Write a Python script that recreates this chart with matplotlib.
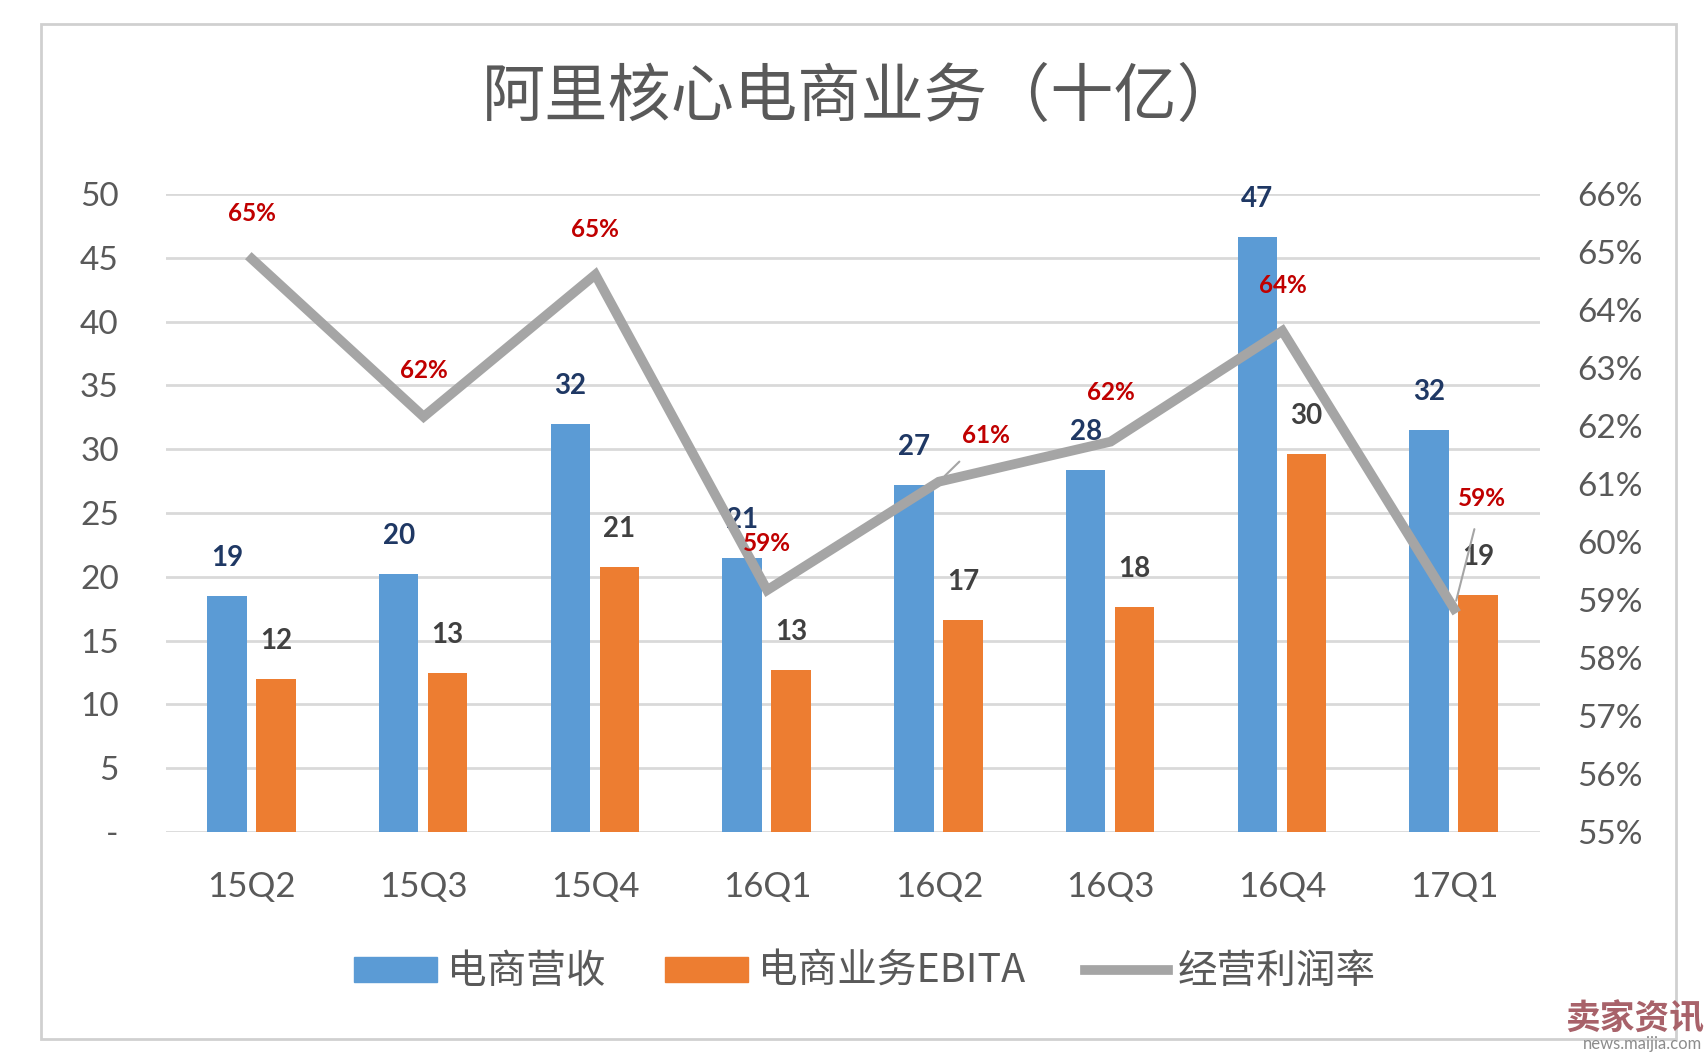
import matplotlib
matplotlib.use("Agg")
import matplotlib.pyplot as plt
import numpy as np
from matplotlib.patches import Rectangle
from matplotlib.lines import Line2D

# chart data
quarters = ["15Q2", "15Q3", "15Q4", "16Q1", "16Q2", "16Q3", "16Q4", "17Q1"]
revenue = [18.5, 20.2, 32.0, 21.5, 27.2, 28.4, 46.6, 31.5]
revenue_labels = ["19", "20", "32", "21", "27", "28", "47", "32"]
ebita = [12.0, 12.5, 20.8, 12.7, 16.6, 17.6, 29.6, 18.6]
ebita_labels = ["12", "13", "21", "13", "17", "18", "30", "19"]
margin = [64.88, 62.16, 64.61, 59.17, 61.04, 61.73, 63.64, 58.85]
margin_labels = ["65%", "62%", "65%", "59%", "61%", "62%", "64%", "59%"]
left_ticks = [0, 5, 10, 15, 20, 25, 30, 35, 40, 45, 50]
left_tick_labels = ["-", "5", "10", "15", "20", "25", "30", "35", "40", "45", "50"]
right_ticks = [55, 56, 57, 58, 59, 60, 61, 62, 63, 64, 65, 66]

BLUE = "#5B9BD5"
ORANGE = "#ED7D31"
GREY = "#A5A5A5"
TXT = "#595959"
LAT = ["Lato", "Noto Sans CJK SC", "DejaVu Sans"]
CJK = ["Noto Sans CJK SC", "DejaVu Sans"]

fig = plt.figure(figsize=(17.06, 10.52), dpi=100)
ax = fig.add_axes([0.0973, 0.2091, 0.8054, 0.6065])

# outer frame
fig.patches.append(Rectangle((41 / 1706, 1 - 1039 / 1052), 1635 / 1706, 1015 / 1052,
                             transform=fig.transFigure, fill=False,
                             edgecolor="#D0D0D0", linewidth=2))

x = np.arange(len(quarters))
w = 0.23
ax.bar(x - 0.145, revenue, w, color=BLUE, zorder=2)
ax.bar(x + 0.14, ebita, w, color=ORANGE, zorder=2)

ax.set_xlim(-0.5, len(quarters) - 0.5)
ax.set_ylim(0, 50)
ax.set_yticks(left_ticks)
ax.set_yticklabels(left_tick_labels)
ax.set_xticks(x)
ax.set_xticklabels(quarters)
ax.grid(axis="y", color="#D9D9D9", linewidth=2, zorder=0)
ax.set_axisbelow(True)
for s in ax.spines.values():
    s.set_visible(False)
ax.tick_params(axis="y", length=0, pad=34, labelsize=24, labelcolor=TXT)
ax.tick_params(axis="x", length=0, pad=28, labelsize=25, labelcolor=TXT)
for t in ax.get_xticklabels() + ax.get_yticklabels():
    t.set_family(LAT)

for i in range(len(quarters)):
    ax.annotate(revenue_labels[i], (x[i] - 0.145, revenue[i]), xytext=(0, 38),
                textcoords="offset pixels", ha="center", va="center",
                fontsize=20, fontweight="bold", color="#1F3864", family=LAT, zorder=5)
    ax.annotate(ebita_labels[i], (x[i] + 0.14, ebita[i]), xytext=(0, 38),
                textcoords="offset pixels", ha="center", va="center",
                fontsize=20, fontweight="bold", color="#404040", family=LAT, zorder=5)

ax2 = ax.twinx()
ax2.set_ylim(55, 66)
ax2.set_yticks(right_ticks)
ax2.set_yticklabels([f"{t}%" for t in right_ticks])
for s in ax2.spines.values():
    s.set_visible(False)
ax2.tick_params(axis="y", length=0, pad=27, labelsize=24, labelcolor=TXT)
for t in ax2.get_yticklabels():
    t.set_family(LAT)
ax2.plot(x, margin, color=GREY, linewidth=7, solid_joinstyle="miter", zorder=3)

pct_offsets = [(0, 45), (0, 46), (0, 45), (0, 47), (47, 46), (0, 49), (0, 45), (28, 110)]
for i in range(len(quarters)):
    dx, dy = pct_offsets[i]
    arrow = None
    if dx > 0:
        arrow = dict(arrowstyle="-", color=GREY, lw=1.5, shrinkA=12, shrinkB=6)
    ax2.annotate(margin_labels[i], (x[i], margin[i]), xytext=(dx, dy),
                 textcoords="offset pixels", ha="center", va="center",
                 fontsize=17.5, fontweight="bold", color="#C00000", family=LAT,
                 arrowprops=arrow, zorder=6)

fig.text(0.505, 0.907, "阿里核心电商业务（十亿）", ha="center", va="center",
         fontsize=45.5, color=TXT, family=CJK, fontweight="light")

handles = [Rectangle((0, 0), 1, 1, color=BLUE),
           Rectangle((0, 0), 1, 1, color=ORANGE),
           Line2D([0], [0], color=GREY, linewidth=7)]
leg = fig.legend(handles, ["电商营收", "电商业务EBITA", "经营利润率"],
                 loc="center", bbox_to_anchor=(0.507, 0.076), ncol=3, frameon=False,
                 prop={"family": CJK, "size": 28.5}, handlelength=2.1, handleheight=0.6,
                 handletextpad=0.25, columnspacing=1.5)
for t in leg.get_texts():
    t.set_color(TXT)

# watermark
fig.text(0.999, 0.031, "卖家资讯", ha="right", va="center", fontsize=25,
         fontweight="bold", color="#A8626A", family=CJK)
fig.text(0.998, 0.008, "news.maijia.com", ha="right", va="center", fontsize=12,
         color="#8C8C8C", family=LAT)

fig.savefig("out.png", dpi=100)
